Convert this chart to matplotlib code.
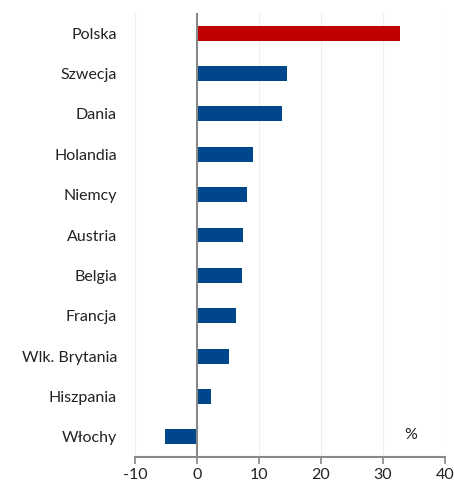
import matplotlib
matplotlib.use("Agg")
import matplotlib.pyplot as plt

countries = ["Polska", "Szwecja", "Dania", "Holandia", "Niemcy", "Austria",
             "Belgia", "Francja", "Wlk. Brytania", "Hiszpania", "Włochy"]
values = [32.7, 14.5, 13.7, 9.0, 8.1, 7.4, 7.3, 6.3, 5.2, 2.2, -5.2]
xticks = [-10, 0, 10, 20, 30, 40]

plt.rcParams['font.family'] = ['Lato', 'DejaVu Sans']

fig = plt.figure(figsize=(4.54, 4.83), dpi=100)
ax = fig.add_axes([135/454, 1 - 457/483, (445-135)/454, (457-13)/483])

colors = ["#C00000"] + ["#00468B"] * (len(countries) - 1)
ypos = list(range(len(countries)))
ax.barh(ypos, values, height=0.37, color=colors, zorder=3)
ax.set_ylim(len(countries) - 0.5, -0.5)
ax.set_xlim(-10, 40)
ax.set_xticks(xticks)
ax.set_xticklabels([str(t) for t in xticks], fontsize=11.5, color="#222222")
ax.set_yticks(ypos)
ax.set_yticklabels(countries, fontsize=11.5, color="#222222")
ax.tick_params(axis='y', length=0, pad=13)
ax.tick_params(axis='x', length=5, width=1.2, color="#888888", direction='out', pad=3)

for s in ["top", "right", "left"]:
    ax.spines[s].set_visible(False)
ax.spines["bottom"].set_color("#888888")
ax.spines["bottom"].set_linewidth(1.5)

ax.grid(axis='x', color="#EEEEEE", linewidth=0.8, zorder=0)
ax.axvline(0, color="#888888", linewidth=1.5, zorder=4)

ax.text(34.5, 9.95, "%", fontsize=11.5, color="#222222", ha='center', va='center')

fig.savefig("out.png", dpi=100)
